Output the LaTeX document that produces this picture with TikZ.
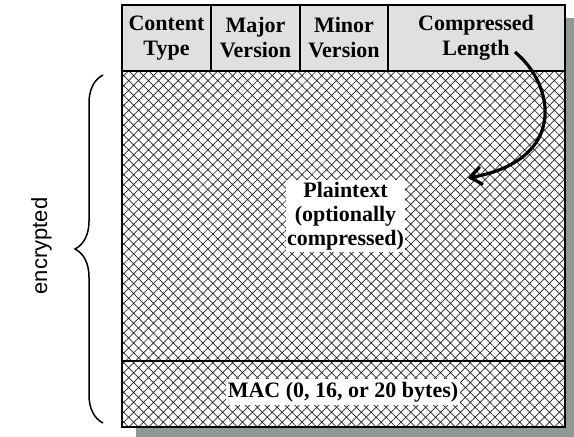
\documentclass[tikz,border=0pt]{standalone}
\usepackage{fontspec}
\setmainfont{Liberation Serif}
\newfontfamily\labelsans{Liberation Sans}
\usetikzlibrary{patterns.meta,arrows.meta,decorations.pathreplacing}
\definecolor{shadowgray}{HTML}{8F9892}
\definecolor{headfill}{HTML}{DFE1DF}
\tikzset{
  field/.style={font=\fontsize{22}{25}\selectfont\bfseries, align=center},
  whitelabel/.style={field, fill=white, inner xsep=1.5pt, inner ysep=2pt},
  hatched/.style={pattern={Hatch[angle=45,distance=7pt,line width=0.7pt]}, pattern color=black!85},
  frame/.style={draw=black, line width=2pt},
  divider/.style={draw=black, line width=1.3pt},
}
\begin{document}
\begin{tikzpicture}[x=1pt,y=-1pt]
  \useasboundingbox (0,0) rectangle (574,437);
  % drop shadow of the record
  \fill[shadowgray] (136,18) rectangle (574,437);
  % header fields
  \fill[headfill] (122,5) rectangle (565,71);
  % encrypted body
  \fill[white] (122,71) rectangle (565,427);
  \fill[hatched] (122,71) rectangle (565,427);
  % field separators
  \draw[divider] (122,71) -- (565,71);
  \draw[divider] (211,5) -- (211,71);
  \draw[divider] (300,5) -- (300,71);
  \draw[divider] (388,5) -- (388,71);
  \draw[divider] (122,361) -- (565,361);
  \draw[frame] (122,5) rectangle (565,427);
  % header labels
  \node[field] (ctype) at (166.5,38) {Content\\Type};
  \node[field] (major) at (255.5,38) {Major\\Version};
  \node[field] (minor) at (344,38) {Minor\\Version};
  \node[field] (clen) at (476,38) {Compressed\\Length};
  % body labels
  \node[whitelabel, font=\fontsize{22}{24}\selectfont\bfseries] (plain) at (345.5,216) {Plaintext\\(optionally\\compressed)};
  \node[whitelabel, inner ysep=3pt] (mac) at (343,392) {MAC (0, 16, or 20 bytes)};
  % length field points at the compressed plaintext
  \coordinate (lenstart) at (515,52);
  \coordinate (lenend) at (468,178);
  \draw[line width=3.2pt, -{Straight Barb[length=11pt,width=18pt]}]
    (lenstart) .. controls (555,85) and (568,160) .. (lenend);
  % brace marking the encrypted part
  \coordinate (btop) at (103,75);
  \coordinate (bbot) at (103,423);
  \draw[line width=1.5pt, decorate, decoration={brace, amplitude=28pt}] (bbot) -- (btop);
  \node[font=\labelsans\fontsize{22}{24}\selectfont, rotate=90, anchor=base] (enc) at (47,246) {encrypted};
\end{tikzpicture}
\end{document}
